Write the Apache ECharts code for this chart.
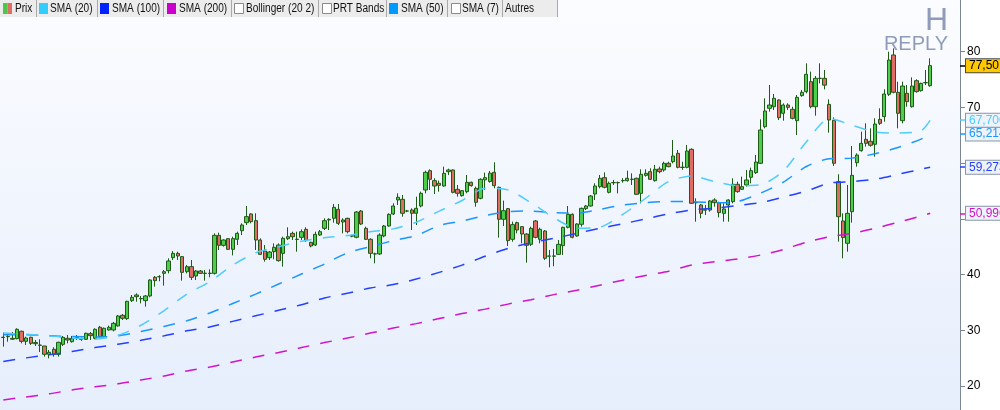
<!DOCTYPE html>
<html><head><meta charset="utf-8">
<script src="https://cdn.jsdelivr.net/npm/echarts@6/dist/echarts.min.js"></script>
<style>html,body{margin:0;padding:0;background:#fff}#c{width:1000px;height:410px}</style>
</head><body><div id="c"></div>
<script>
// ---- candle data (index 0..202) ----
const opens = [28.7,28.85,28.4,28.5,29.82,28.02,28.74,27.6,27.3,27.18,25.69,26.59,25.69,27.48,28.56,27.96,28.65,28.36,28.38,29.4,
28.56,30.54,28.86,30.06,30.06,30.78,32.69,32.09,35.32,36.34,35.66,35.32,36.16,39.51,39.6,40.22,40.7,43.04,43.81,43.22,
40.52,41.42,39.75,40.64,40.2,40.2,40.22,47.04,45.25,46.45,44.53,46.33,47.88,49.32,50.88,49.68,46.21,44.23,43.04,44.11,
45.31,43.81,46.45,47.4,46.3,46.69,48.12,45.79,45.31,47.1,48.3,49.8,50.1,51.71,49.44,50.1,46.9,46.69,51.41,48.3,
46.33,43.7,43.7,46.93,48.72,50.87,53.39,53.51,51.4,51.59,51.0,52.31,55.18,58.65,56.86,56.38,55.9,58.47,58.77,55.3,
54.16,54.88,56.56,55.48,53.69,57.0,56.7,58.35,55.66,49.92,51.83,46.33,49.32,48.6,47.28,45.43,49.62,46.33,47.82,43.3,
43.3,43.63,45.19,48.48,50.81,46.93,49.02,51.83,52.31,54.46,55.78,57.4,54.76,56.48,56.48,56.84,56.86,57.08,57.28,54.58,
57.81,58.47,56.86,58.95,58.77,59.97,60.26,61.76,59.23,59.25,62.48,52.89,52.49,51.57,51.59,53.39,52.91,50.99,52.49,53.09,
56.2,55.3,56.08,57.46,58.29,59.97,66.55,69.84,70.13,71.33,68.94,70.43,69.66,67.62,72.11,72.83,74.62,70.13,75.2,75.22,
70.55,67.68,56.68,49.62,45.61,51.29,60.08,62.24,64.27,63.92,63.38,67.86,68.34,72.35,79.41,72.71,67.62,72.53,70.13,74.8,
73.0,74.42,73.9];
const closes = [28.75,28.9,28.55,30.18,28.02,28.62,27.66,27.8,27.35,25.69,26.05,25.69,27.84,28.74,28.26,28.56,28.7,28.4,29.46,29.04,
30.18,28.86,30.36,30.54,31.25,32.57,32.15,35.2,35.92,36.04,35.7,36.16,39.03,38.91,39.63,40.52,42.44,43.81,43.34,40.4,
41.42,39.51,40.64,40.22,40.25,40.25,47.04,45.25,46.21,44.53,46.45,47.4,48.9,50.4,49.5,46.21,43.63,42.74,44.05,44.89,
42.5,46.51,46.8,46.8,46.35,47.7,46.09,45.13,47.22,47.7,49.68,49.92,52.07,49.2,49.8,47.7,46.95,51.23,49.08,46.33,
43.81,43.72,47.1,48.72,50.81,52.31,53.87,51.0,51.42,51.0,51.89,54.58,58.35,57.1,55.9,56.02,58.17,58.77,54.76,54.58,
55.06,56.56,55.96,52.97,57.1,57.4,58.2,55.96,49.92,51.47,46.09,48.96,48.0,47.28,45.25,48.3,46.69,48.12,42.92,43.34,
43.34,45.43,48.48,50.81,46.69,49.08,51.89,52.31,54.1,55.9,57.28,55.66,56.38,56.52,56.52,56.88,57.28,57.12,54.4,57.99,
58.17,57.1,58.89,58.47,59.97,59.37,61.28,59.25,59.27,62.18,52.79,52.93,50.99,51.61,53.21,52.91,51.11,51.77,53.39,56.2,
54.88,55.78,56.98,58.65,60.2,65.95,69.36,70.43,71.63,68.16,70.43,70.01,68.04,71.81,72.71,75.94,70.13,75.22,75.24,74.0,
67.74,59.97,50.39,46.63,50.99,57.81,61.46,63.56,63.56,63.2,67.02,67.14,72.41,78.51,72.71,68.94,73.84,71.03,73.84,72.83,
74.32,74.46,77.5];
const lows = [27.07,27.96,28.3,28.38,27.66,27.37,27.37,27.18,26.1,25.27,24.97,25.27,25.27,27.18,27.66,27.78,28.26,28.1,28.26,28.26,
28.38,28.74,28.7,29.94,29.8,30.66,31.85,31.85,35.08,35.14,34.84,34.25,35.92,37.83,38.8,38.01,40.22,42.62,42.62,38.91,
40.22,39.03,39.03,40.1,38.91,39.51,40.0,44.41,45.01,44.41,43.45,45.31,47.1,48.9,49.2,44.41,43.5,42.32,42.62,42.74,
42.32,41.42,46.21,46.21,44.11,46.21,45.9,44.89,45.13,46.93,48.0,48.0,49.32,48.9,47.4,47.4,46.7,46.51,48.9,46.21,
42.92,42.02,43.52,46.69,48.6,50.69,52.49,50.39,51.2,48.0,48.9,52.07,54.58,55.18,54.46,54.88,55.78,57.87,54.58,53.99,
53.99,54.58,55.78,52.19,53.51,55.2,56.5,55.48,46.63,48.72,45.13,45.9,47.4,45.61,42.14,45.13,46.51,45.61,42.62,41.3,
41.5,43.52,43.52,48.3,46.51,46.8,48.6,51.59,52.19,53.39,55.48,55.48,54.58,56.08,54.58,56.5,56.68,56.08,54.28,52.79,
57.58,56.98,56.68,58.17,58.47,59.25,59.97,59.07,58.8,59.07,52.67,49.5,50.1,50.7,51.29,52.19,50.27,49.5,49.5,52.79,
54.7,55.18,55.78,56.38,58.05,59.85,66.25,69.24,69.54,67.74,67.62,69.54,67.86,65.05,71.93,72.53,69.84,68.52,74.32,73.25,
65.47,59.49,45.91,42.92,44.11,49.32,59.37,62.06,62.96,62.96,61.16,66.85,67.44,72.05,72.53,66.25,67.14,70.13,69.96,72.65,
72.83,74.02,73.72];
const highs = [29.58,29.16,29.7,30.36,29.94,28.86,28.86,28.26,28.38,27.2,26.47,26.95,27.96,28.98,29.16,28.98,29.16,28.7,29.58,29.7,
30.36,30.78,30.5,30.84,31.5,32.75,32.93,35.3,36.34,36.64,36.16,36.34,39.15,39.75,39.9,40.82,42.92,44.23,44.11,43.34,
41.72,42.62,40.82,40.82,40.82,40.94,47.4,47.52,46.33,46.51,46.8,47.7,49.2,52.3,51.0,51.0,46.5,45.3,44.23,45.6,
45.6,46.8,48.48,47.7,47.7,48.12,48.48,45.9,47.7,48.0,50.1,50.1,52.67,52.67,50.1,50.2,47.1,51.41,51.59,48.6,
46.51,43.93,47.4,48.9,51.0,52.79,54.58,54.28,51.6,51.89,53.99,54.88,58.65,58.89,57.28,56.86,59.37,59.01,58.89,56.08,
55.18,57.87,56.68,55.78,57.28,58.3,58.6,60.15,55.78,53.27,51.95,49.5,49.5,48.72,47.4,48.6,49.8,48.42,48.0,44.41,
44.6,46.21,48.6,52.31,50.99,49.2,52.01,52.49,54.28,56.38,57.87,58.35,56.68,56.98,56.7,57.3,58.65,58.17,57.4,58.89,
58.89,59.07,59.67,59.37,60.26,60.26,64.15,62.36,60.26,63.26,62.66,53.69,52.67,52.5,53.39,53.69,53.09,52.79,53.51,57.28,
56.68,57.58,58.77,59.19,61.46,67.86,71.63,74.02,72.41,71.45,70.73,70.73,70.13,72.23,73.13,77.91,76.42,75.64,77.91,76.72,
71.45,68.22,58.0,50.99,56.08,63.08,61.76,65.65,67.14,66.25,68.04,69.84,73.25,80.0,80.6,74.62,74.62,74.02,75.4,75.04,
74.44,76.72,78.81];

// ---- moving averages at these candle indices ----
const smaIdx = [0,5,10,15,20,25,30,35,40,45,50,55,60,65,70,75,80,85,90,95,100,105,110,115,120,125,130,135,140,145,150,155,160,165,170,175,180,185,190,195,200,202];
const sma20 = [29.5,29.3,29.0,28.6,28.4,29.1,30.9,33.5,36.5,38.7,41.7,43.9,45.0,46.0,46.6,47.0,47.7,48.2,49.4,51.4,53.3,55.5,55.2,52.9,50.2,48.3,48.5,50.8,53.7,56.7,57.7,56.7,55.95,56.1,58.6,63.8,68.0,66.8,65.6,65.4,65.8,67.7];
const sma50 = [29.2,29.2,29.0,28.9,28.8,29.0,29.8,30.7,31.7,33.1,34.8,36.5,38.3,40.1,41.9,43.9,45.0,46.1,47.0,48.8,49.6,50.6,51.3,51.4,51.1,51.0,51.7,52.5,52.9,53.1,53.1,52.9,53.1,54.6,56.6,59.4,60.8,60.9,61.7,62.8,64.3,65.214];
const sma100 = [24.4,25.05,25.6,26.2,26.9,27.5,28.2,29.0,29.9,30.6,31.6,32.6,33.6,34.6,35.8,36.65,37.6,38.2,39.2,40.4,41.7,43.3,44.7,45.7,46.5,47.4,48.3,49.1,50.0,50.9,51.6,51.9,52.4,52.9,53.9,55.0,56.4,56.7,57.1,58.0,58.9,59.273];
const sma200 = [17.5,18.05,18.6,19.3,19.85,20.4,21.1,21.8,22.7,23.4,24.3,25.2,26.0,26.9,27.8,28.6,29.5,30.4,31.2,32.1,33.0,33.8,34.7,35.5,36.4,37.2,38.1,39.0,39.85,40.6,41.7,42.3,42.8,43.5,44.5,45.8,46.8,47.4,48.3,49.4,50.5,50.996];

const lastPrice = 77.50;
const legendItems = ['Prix','SMA (20)','SMA (100)','SMA (200)','Bollinger (20 2)','PRT Bands','SMA (50)','SMA (7)','Autres'];
const slotCount = 209;

const categories = Array.from({length: slotCount}, (_, i) => String(i));
const candles = opens.map((o, i) => [o, closes[i], lows[i], highs[i]]);
const pairs = arr => smaIdx.map((k, j) => [k, arr[j]]);
const fmt = (v, d) => v.toFixed(d).replace('.', ',');
const FONT = 'Liberation Sans, Arial, sans-serif';
const tagValues = [lastPrice, sma20[sma20.length - 1], sma50[sma50.length - 1], sma100[sma100.length - 1], sma200[sma200.length - 1]];

function valueTag(v, d, color, bg, border, tickColor, tickW) {
  return {
    symbol: 'none', silent: true, animation: false,
    lineStyle: {color: tickColor, width: tickW, type: 'solid'},
    label: {show: true, position: 'end', distance: 0, formatter: fmt(v, d), color: color,
      backgroundColor: bg, borderColor: border, borderWidth: 1, padding: [1, 3, 0, 3],
      fontSize: 12, fontFamily: FONT},
    data: [[{yAxis: v, x: 960}, {yAxis: v, x: 966}]]
  };
}

function smaSeries(name, arr, color) {
  return {
    name: name, type: 'line', data: pairs(arr), symbol: 'none', smooth: 0.25, z: 3,
    lineStyle: {color: color, width: 1.5, type: [12, 11]},
    markLine: valueTag(arr[arr.length - 1], 3, color, '#eef3fb', '#8796a8', color, 1.5)
  };
}

// legend strip graphics
const sepX = [35.7, 96.7, 163, 231, 318, 386, 447, 502, 557];
const textX = [15, 50, 112, 179, 246, 333, 401, 462, 505];
const swatches = [
  {x: 39, c: '#33ccff'}, {x: 100, c: '#0022ff'}, {x: 167, c: '#cc00cc'},
  {x: 389, c: '#0099ff'}
];
const boxes = [234, 322, 451];
const g = [];
g.push({type: 'rect', z: -10, silent: true, shape: {x: 0, y: 0, width: 960, height: 410},
  style: {fill: {type: 'linear', x: 0, y: 0, x2: 0, y2: 1,
    colorStops: [{offset: 0, color: '#fbfcff'}, {offset: 1, color: '#e6eefc'}]}}});
g.push({type: 'rect', z: 100, shape: {x: 0, y: 0, width: 557, height: 17}, style: {fill: '#ececec'}});
sepX.forEach(x => g.push({type: 'rect', z: 101, shape: {x: Math.round(x), y: 0, width: 1, height: 17}, style: {fill: '#a9a9a9'}}));
g.push({type: 'rect', z: 101, shape: {x: 3, y: 3, width: 4.5, height: 11}, style: {fill: '#4cc74c'}});
g.push({type: 'rect', z: 101, shape: {x: 7.5, y: 3, width: 4.5, height: 11}, style: {fill: '#e06c66'}});
swatches.forEach(s => g.push({type: 'rect', z: 101, shape: {x: s.x, y: 3, width: 9, height: 11}, style: {fill: s.c}}));
boxes.forEach(x => g.push({type: 'rect', z: 101, shape: {x: x + 0.5, y: 3.5, width: 9, height: 10}, style: {fill: '#ffffff', stroke: '#8a8a8a', lineWidth: 1}}));
legendItems.forEach((t, i) => g.push({type: 'text', z: 101, x: textX[i], y: 9, scaleX: 0.84,
  style: {text: t, fill: '#111', font: '12px ' + FONT, verticalAlign: 'middle'}}));
g.push({type: 'text', z: 50, x: 948, y: 5, style: {text: 'H', fill: '#8f9cb9', font: '32px ' + FONT, align: 'right'}});
g.push({type: 'text', z: 50, x: 948, y: 34, style: {text: 'REPLY', fill: '#8f9cb9', font: '20px ' + FONT, align: 'right'}});

const chart = echarts.init(document.getElementById('c'), null, {renderer: 'canvas'});
chart.setOption({
  animation: false,
  backgroundColor: '#ffffff',
  grid: {left: 1, right: 40, top: -4.02, bottom: -31.74, outerBoundsMode: 'none', containLabel: false},
  xAxis: {type: 'category', data: categories, boundaryGap: true, show: false},
  yAxis: {type: 'value', position: 'right', min: 10, max: 90, interval: 10,
    axisLine: {show: true, lineStyle: {color: '#7b8794', width: 1}},
    axisTick: {show: true, length: 5, lineStyle: {color: '#7b8794'}},
    axisLabel: {color: '#000', fontSize: 12, fontFamily: FONT, margin: 7,
      formatter: v => tagValues.some(t => Math.abs(t - v) < 1.6) ? '' : String(v)},
    splitLine: {show: false}},
  graphic: g,
  series: [
    smaSeries('SMA (200)', sma200, '#d214c8'),
    smaSeries('SMA (100)', sma100, '#2340ff'),
    smaSeries('SMA (50)', sma50, '#1a96ff'),
    smaSeries('SMA (20)', sma20, '#4fcdfa'),
    {name: 'Prix', type: 'candlestick', data: candles, barWidth: 3.8, z: 2,
      itemStyle: {color: '#4cce4c', color0: '#e06c66', borderColor: '#1f5a17', borderColor0: '#1f5a17',
        borderColorDoji: '#1f5a17', borderWidth: 1},
      markLine: valueTag(lastPrice, 2, '#000', '#ffc800', '#4a4a4a', '#000', 1.5)}
  ]
});
</script>
</body></html>
